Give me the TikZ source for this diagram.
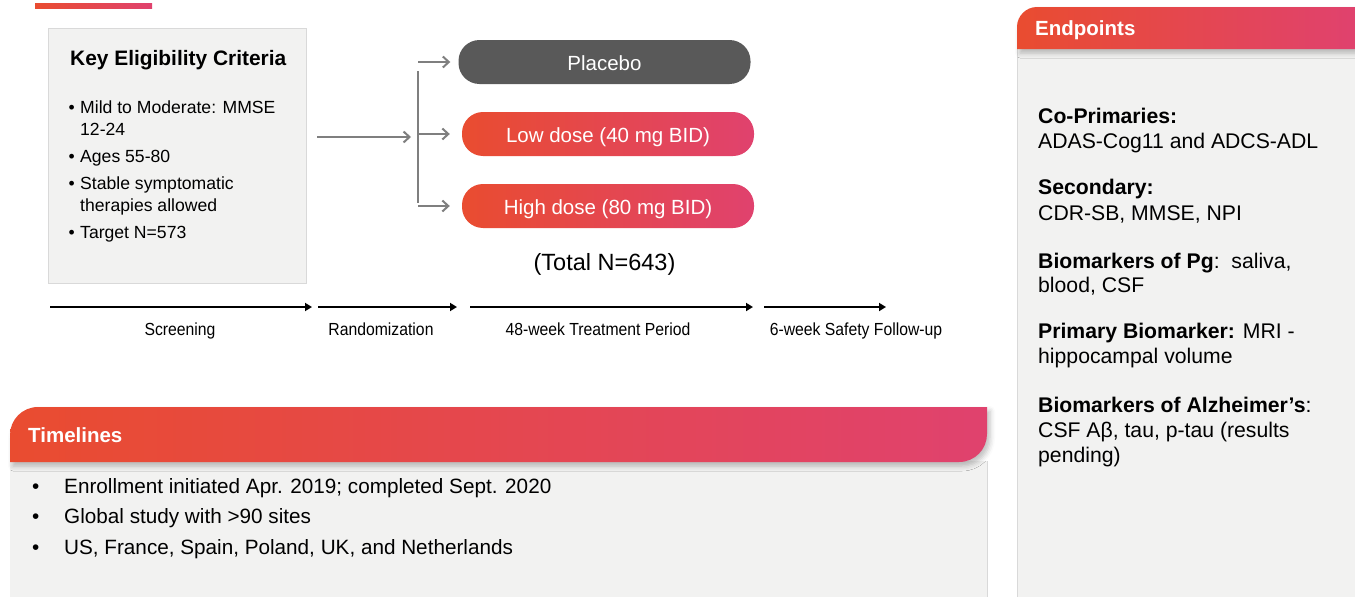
\documentclass[tikz,border=0pt]{standalone}
\usepackage{fontspec}
\setmainfont{Liberation Sans}
\newfontfamily\narrowfont[FakeStretch=0.9]{Liberation Sans}
\usetikzlibrary{arrows.meta,shadows.blur}
\definecolor{gA}{RGB}{233,76,48}
\definecolor{gB}{RGB}{233,60,70}
\definecolor{gC}{RGB}{224,66,110}
\definecolor{panel}{RGB}{242,242,241}
\definecolor{panelline}{RGB}{217,217,217}
\definecolor{arrgray}{RGB}{127,127,127}
\definecolor{darkpill}{RGB}{89,89,89}
\begin{document}
\begin{tikzpicture}[x=1pt,y=-1pt,
  grad/.style={left color=gA, middle color=gB, right color=gC},
  pill/.style={minimum width=292pt, minimum height=44pt, rounded corners=21pt,
    text=white, font=\fontsize{20.5}{24}\selectfont, inner sep=0pt,
    text height=20pt, text depth=4pt},
  lbl/.style={anchor=base west, inner sep=0pt},
  crit/.style={lbl, font=\fontsize{17.6}{21}\selectfont},
  tl/.style={lbl, font=\fontsize{20.7}{24}\selectfont},
  ep/.style={lbl, font=\fontsize{21.2}{25}\selectfont},
  phase/.style={anchor=base, inner sep=0pt, font=\narrowfont\fontsize{17.5}{20}\selectfont},
  hdr/.style={lbl, text=white, font=\bfseries\fontsize{20.5}{24}\selectfont},
  garrow/.style={draw=arrgray, line width=2.2pt, -{Straight Barb[length=6pt,width=11pt,line width=2pt]}},
  karrow/.style={draw=black, line width=2.4pt, -{Triangle[length=7pt,width=8pt]}},
  hshadow/.style={blur shadow={shadow xshift=3pt, shadow yshift=-4pt, shadow blur radius=5pt, shadow opacity=25}}
]
\useasboundingbox (0,0) rectangle (1355,597);

% top accent bar
\shade[grad] (35,3) rectangle (152,8);

% Key eligibility box
\node[draw=panelline, fill=panel, line width=1pt, minimum width=258pt, minimum height=255pt, inner sep=0pt] (elig) at (177,155.5) {};
\node[lbl, font=\bfseries\fontsize{20.9}{24}\selectfont] (eligtitle) at (70,65) {Key Eligibility Criteria};
\node[crit] (b1) at (68.5,113) {•};
\node[crit] (c1) at (80,113) {Mild to Moderate: MMSE};
\node[crit] (c1b) at (80,135) {12-24};
\node[crit] (b2) at (68.5,162) {•};
\node[crit] (c2) at (80,162) {Ages 55-80};
\node[crit] (b3) at (68.5,189) {•};
\node[crit] (c3) at (80,189) {Stable symptomatic};
\node[crit] (c3b) at (80,211) {therapies allowed};
\node[crit] (b4) at (68.5,238) {•};
\node[crit] (c4) at (80,238) {Target N=573};

% arms
\node[pill, fill=darkpill] (placebo) at (604.5,62) {Placebo};
\node[pill, grad] (low) at (608,134) {Low dose (40 mg BID)};
\node[pill, grad] (high) at (608,206) {High dose (80 mg BID)};
\node[anchor=base, inner sep=0pt, font=\fontsize{23.5}{28}\selectfont] (total) at (604.5,270) {(Total N=643)};

% randomization arrows
\coordinate (rstart) at (317,137);
\coordinate (split) at (418,137);
\draw[garrow, shorten >=7pt] (rstart) -- (split);
\draw[draw=arrgray, line width=2.2pt] (418,71) -- (418,203);
\draw[garrow, shorten >=8pt] (split |- placebo.west) -- (placebo.west);
\draw[garrow, shorten >=12pt] (split |- low.west) -- (low.west);
\draw[garrow, shorten >=12pt] (split |- high.west) -- (high.west);

% timeline
\coordinate (t1a) at (50,307);   \coordinate (t1b) at (312,307);
\coordinate (t2a) at (318,307);  \coordinate (t2b) at (457,307);
\coordinate (t3a) at (470,307);  \coordinate (t3b) at (753,307);
\coordinate (t4a) at (764,307);  \coordinate (t4b) at (886,307);
\draw[karrow] (t1a) -- (t1b);
\draw[karrow] (t2a) -- (t2b);
\draw[karrow] (t3a) -- (t3b);
\draw[karrow] (t4a) -- (t4b);
\node[phase] (p1) at (180,335) {Screening};
\node[phase] (p2) at (381,335) {Randomization};
\node[phase] (p3) at (598,335) {48-week Treatment Period};
\node[phase] (p4) at (856,335) {6-week Safety Follow-up};

% Timelines panel
\fill[panel] (10,461) rectangle (987,597);
\draw[panelline, line width=1pt] (987,461) -- (987,597);
\shade[grad, hshadow] (10,462) -- (10,435) .. controls (10,419.6) and (22.4,407) .. (38,407)
  -- (987,407) -- (987,434) .. controls (987,449.4) and (974.6,462) .. (959,462) -- cycle;
\node[hdr] (tltitle) at (28,442) {Timelines};
\node[tl] (tb1) at (32,493) {•};
\node[tl] (tt1) at (64,493) {Enrollment initiated Apr. 2019; completed Sept. 2020};
\node[tl] (tb2) at (32,523) {•};
\node[tl] (tt2) at (64,523) {Global study with >90 sites};
\node[tl] (tb3) at (32,554) {•};
\node[tl] (tt3) at (64,554) {US, France, Spain, Poland, UK, and Netherlands};

% Endpoints panel
\fill[panel] (1017,49) rectangle (1355,597);
\draw[panelline, line width=1pt] (1017,49) -- (1017,597);
\shade[grad, hshadow] (1017,49) -- (1017,27) .. controls (1017,16) and (1026,7) .. (1037,7)
  -- (1355,7) -- (1355,49) -- cycle;
\node[hdr] (eptitle) at (1035,35) {Endpoints};
\node[ep] (e1) at (1038,123) {\bfseries Co-Primaries:};
\node[ep] (e2) at (1038,148) {ADAS-Cog11 and ADCS-ADL};
\node[ep] (e3) at (1038,194) {\bfseries Secondary:};
\node[ep] (e4) at (1038,220) {CDR-SB, MMSE, NPI};
\node[ep] (e5) at (1038,268) {\textbf{Biomarkers of Pg}:\ \ saliva,};
\node[ep] (e6) at (1038,292) {blood, CSF};
\node[ep] (e7) at (1038,338) {\textbf{Primary Biomarker:} MRI -};
\node[ep] (e8) at (1038,363) {hippocampal volume};
\node[ep] (e9) at (1038,412) {\textbf{Biomarkers of Alzheimer’s}:};
\node[ep] (e10) at (1038,437) {CSF Aβ, tau, p-tau (results};
\node[ep] (e11) at (1038,462) {pending)};
\end{tikzpicture}
\end{document}
